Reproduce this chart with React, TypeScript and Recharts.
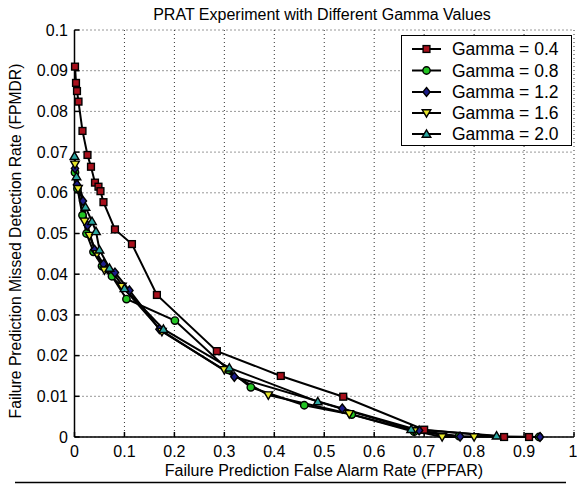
import React from 'react';
import { LineChart, Line, XAxis, YAxis, CartesianGrid, Label } from 'recharts';

const xTicks = [0, 0.1, 0.2, 0.3, 0.4, 0.5, 0.6, 0.7, 0.8, 0.9, 1];
const yTicks = [0, 0.01, 0.02, 0.03, 0.04, 0.05, 0.06, 0.07, 0.08, 0.09, 0.1];

// [FPFAR, FPMDR] pairs
const gamma04 = [
  [0.001, 0.091], [0.003, 0.087], [0.005, 0.085], [0.008, 0.0824], [0.016, 0.0752],
  [0.026, 0.0693], [0.033, 0.0664], [0.041, 0.0625], [0.048, 0.0615], [0.052, 0.0604],
  [0.058, 0.0577], [0.081, 0.051], [0.115, 0.0474], [0.165, 0.0349], [0.285, 0.0211],
  [0.413, 0.015], [0.538, 0.0099], [0.7, 0.0018], [0.86, 0], [0.91, 0],
];
const gamma08 = [
  [0.001, 0.065], [0.006, 0.061], [0.016, 0.0545], [0.024, 0.05], [0.038, 0.0455],
  [0.055, 0.042], [0.075, 0.0395], [0.104, 0.0339], [0.201, 0.0286], [0.308, 0.0165],
  [0.353, 0.0122], [0.46, 0.0078], [0.555, 0.0055], [0.68, 0.0013], [0.77, 0.0002], [0.93, 0],
];
const gamma12 = [
  [0.001, 0.066], [0.005, 0.062], [0.017, 0.058], [0.026, 0.052], [0.04, 0.046],
  [0.058, 0.0425], [0.081, 0.0404], [0.11, 0.036], [0.17, 0.0265], [0.32, 0.0148],
  [0.536, 0.007], [0.69, 0.0016], [0.772, 0.0001], [0.932, 0],
];
const gamma16 = [
  [0.001, 0.067], [0.007, 0.061], [0.02, 0.053], [0.03, 0.0495], [0.045, 0.045],
  [0.06, 0.041], [0.095, 0.037], [0.175, 0.0259], [0.3, 0.0165], [0.388, 0.0103],
  [0.55, 0.0057], [0.68, 0.0015], [0.736, 0], [0.8, 0],
];
const gamma20 = [
  [0, 0.069], [0.004, 0.064], [0.022, 0.0565], [0.035, 0.053], [0.043, 0.0505],
  [0.05, 0.046], [0.07, 0.0415], [0.1, 0.0365], [0.178, 0.0265], [0.31, 0.017],
  [0.487, 0.0087], [0.674, 0.0019], [0.845, 0.0003],
];

const series = [
  { name: 'Gamma = 0.4', pts: gamma04, shape: 'square', fill: '#a8101c' },
  { name: 'Gamma = 0.8', pts: gamma08, shape: 'circle', fill: '#22c422' },
  { name: 'Gamma = 1.2', pts: gamma12, shape: 'diamond', fill: '#1c1c8a' },
  { name: 'Gamma = 1.6', pts: gamma16, shape: 'down', fill: '#e6e62a' },
  { name: 'Gamma = 2.0', pts: gamma20, shape: 'up', fill: '#2aa6a0' },
];

const FONT = '"Liberation Sans", Arial, Helvetica, sans-serif';

function Marker({ cx, cy, shape, fill }: { cx: number; cy: number; shape: string; fill: string }) {
  const s = { fill, stroke: '#000', strokeWidth: 1.4 };
  if (shape === 'square') return <rect x={cx - 3.4} y={cy - 3.4} width={6.8} height={6.8} {...s} />;
  if (shape === 'circle') return <circle cx={cx} cy={cy} r={3.7} {...s} />;
  if (shape === 'diamond')
    return <polygon points={`${cx},${cy - 4.5} ${cx + 3.6},${cy} ${cx},${cy + 4.5} ${cx - 3.6},${cy}`} {...s} />;
  if (shape === 'down')
    return <polygon points={`${cx - 4.3},${cy - 3.2} ${cx + 4.3},${cy - 3.2} ${cx},${cy + 4.2}`} {...s} />;
  return <polygon points={`${cx - 4.3},${cy + 3.2} ${cx + 4.3},${cy + 3.2} ${cx},${cy - 4.2}`} {...s} />;
}

const legendY = [49, 70.5, 92, 113, 134];

export default function App() {
  return (
    <div style={{ position: 'absolute', left: 0, top: 0, width: 577, height: 484, background: '#fff', fontFamily: FONT }}>
      <LineChart width={577} height={484} margin={{ top: 30, right: 3, left: 0, bottom: 0 }}>
        <CartesianGrid stroke="#333" strokeDasharray="1 3" />
        <XAxis
          type="number"
          dataKey="x"
          domain={[0, 1]}
          ticks={xTicks}
          height={47}
          stroke="#000"
          strokeWidth={1.5}
          tickSize={-5}
          tickMargin={14}
          tick={{ fill: '#000', fontSize: 16, fontFamily: FONT }}
        >
          <Label
            content={() => (
              <text x={324} y={475.5} textAnchor="middle" fontSize={16} fontFamily={FONT} fill="#000">
                Failure Prediction False Alarm Rate (FPFAR)
              </text>
            )}
          />
        </XAxis>
        <YAxis
          type="number"
          dataKey="y"
          domain={[0, 0.1]}
          ticks={yTicks}
          width={74.5}
          stroke="#000"
          strokeWidth={1.5}
          tickSize={-5}
          tickMargin={11.5}
          tick={{ fill: '#000', fontSize: 16, fontFamily: FONT }}
        >
          <Label
            content={() => (
              <text
                x={21}
                y={241}
                transform="rotate(-90 21 241)"
                textAnchor="middle"
                fontSize={15.7}
                fontFamily={FONT}
                fill="#000"
              >
                Failure Prediction Missed Detection Rate (FPMDR)
              </text>
            )}
          />
        </YAxis>
        {series.map((s) => (
          <Line
            key={s.name}
            name={s.name}
            data={s.pts.map(([x, y]) => ({ x, y }))}
            dataKey="y"
            type="linear"
            stroke="#000"
            strokeWidth={2}
            isAnimationActive={false}
            dot={(p: any) => <Marker key={`${s.name}-${p.index}`} cx={p.cx} cy={p.cy} shape={s.shape} fill={s.fill} />}
            activeDot={false}
          />
        ))}
      </LineChart>
      <svg style={{ position: 'absolute', left: 0, top: 0 }} width={577} height={484}>
        <text x={322} y={20} textAnchor="middle" fontSize={16} fontFamily={FONT} fill="#000">
          PRAT Experiment with Different Gamma Values
        </text>
        <rect x={401.5} y={35.5} width={170} height={110} fill="#fff" stroke="#000" strokeWidth={1} />
        {series.map((s, i) => (
          <g key={s.name}>
            <line x1={412} x2={441} y1={legendY[i]} y2={legendY[i]} stroke="#000" strokeWidth={2} />
            <Marker cx={426.5} cy={legendY[i]} shape={s.shape} fill={s.fill} />
            <text x={452} y={legendY[i] + 6} fontSize={17.5} fontFamily={FONT} fill="#000">
              {s.name}
            </text>
          </g>
        ))}
        <line x1={15} x2={566} y1={482.5} y2={482.5} stroke="#000" strokeWidth={1.5} />
      </svg>
    </div>
  );
}
